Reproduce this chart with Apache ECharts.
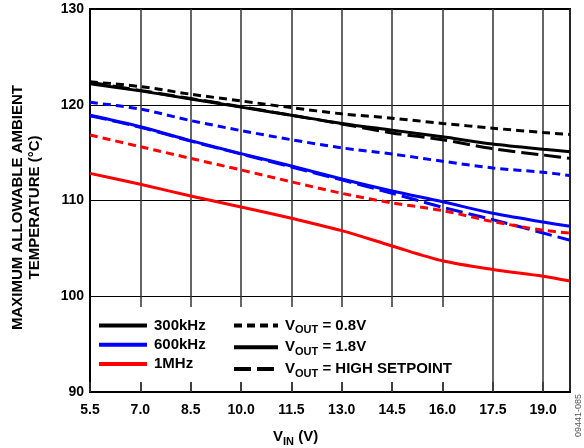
<!DOCTYPE html>
<html>
<head>
<meta charset="utf-8">
<script src="https://cdn.jsdelivr.net/npm/echarts@6/dist/echarts.min.js"></script>
<style>
  html, body { margin: 0; padding: 0; background: #fff; }
  #main { width: 584px; height: 448px; }
</style>
</head>
<body>
<div id="main"></div>
<script>
// V_IN sample points (V)
var vin = [5.5, 7.0, 8.5, 10.0, 11.5, 13.0, 14.5, 16.0, 17.5, 19.0, 19.8];
var xTicks = ['5.5', '7.0', '8.5', '10.0', '11.5', '13.0', '14.5', '16.0', '17.5', '19.0'];

// 300kHz
var k300_v08 = [122.4, 121.9, 121.1, 120.4, 119.7, 119.05, 118.6, 118.05, 117.55, 117.1, 116.9];
var k300_v18 = [122.2, 121.45, 120.6, 119.75, 118.9, 118.05, 117.35, 116.65, 115.9, 115.35, 115.1];
var k300_hi  = [122.35, 121.5, 120.65, 119.8, 118.9, 118.0, 117.05, 116.35, 115.4, 114.75, 114.4];
// 600kHz
var k600_v08 = [120.25, 119.55, 118.35, 117.3, 116.35, 115.5, 114.85, 114.1, 113.4, 112.95, 112.6];
var k600_v18 = [118.9, 117.7, 116.25, 114.9, 113.6, 112.25, 111.0, 109.87, 108.66, 107.75, 107.3];
var k600_hi  = [118.85, 117.65, 116.2, 114.85, 113.5, 112.15, 110.75, 109.3, 108.0, 106.6, 105.85];
// 1MHz
var m1_v08 = [116.84, 115.62, 114.4, 113.19, 111.95, 110.75, 109.75, 108.95, 107.8, 106.9, 106.6];
var m1_v18 = [112.83, 111.69, 110.47, 109.33, 108.14, 106.85, 105.25, 103.7, 102.8, 102.1, 101.6];

var X0 = 5.5; // axis origin, ticks counted from here
var FONT = 'Liberation Sans, Arial, sans-serif';
var SHORT = [8, 5];
var LONG = [17, 6];

function pts(arr) {
  return arr.map(function (t, i) { return [vin[i] - X0, t]; });
}
function mk(name, arr, color, type) {
  return {
    name: name,
    type: 'line',
    data: arr ? pts(arr) : [],
    symbol: 'none',
    smooth: 0.3,
    z: 3,
    lineStyle: { color: color, width: 3, type: type },
    itemStyle: { color: color }
  };
}

var rich = {
  b: { fontFamily: FONT, fontWeight: 'bold', fontSize: 15, color: '#000' },
  s: { fontFamily: FONT, fontWeight: 'bold', fontSize: 11, color: '#000', padding: [9, 0, 0, 0] }
};
var labels = {
  v08: '{b|V}{s|OUT}{b| = 0.8V}',
  v18: '{b|V}{s|OUT}{b| = 1.8V}',
  vhi: '{b|V}{s|OUT}{b| = HIGH SETPOINT}'
};

var chart = echarts.init(document.getElementById('main'), null, { renderer: 'canvas' });
var option = {
  animation: false,
  backgroundColor: '#fff',
  grid: { left: 90, right: 14, top: 9, bottom: 56, show: true, borderColor: '#000', borderWidth: 2 },
  title: {
    text: '{b|V}{s|IN}{b| (V)}',
    left: 268, top: 422,
    textStyle: { rich: rich }
  },
  legend: [
    {
      left: 92, top: 313, orient: 'vertical', itemWidth: 48, itemHeight: 14, itemGap: 4.3,
      data: ['300kHz', '600kHz', '1MHz'],
      itemStyle: { opacity: 0 },
      lineStyle: { width: 4 },
      textStyle: { fontFamily: FONT, fontWeight: 'bold', fontSize: 15, color: '#000', padding: [0, 0, 0, 2] }
    },
    {
      left: 227, top: 313, orient: 'vertical', itemWidth: 44, itemHeight: 14, itemGap: 4.3,
      data: ['v08', 'v18', 'vhi'],
      itemStyle: { opacity: 0 },
      lineStyle: { width: 4 },
      formatter: function (n) { return labels[n]; },
      textStyle: { rich: rich, padding: [0, 0, 0, 2] }
    }
  ],
  graphic: [
    { type: 'rect', z: 3, shape: { x: 91, y: 307, width: 384, height: 75 }, style: { fill: '#fff' } },
    {
      type: 'text', left: 574, top: 394, rotation: Math.PI / 2,
      style: { text: '09441-085', fontFamily: FONT, fontSize: 9, fill: '#555' }
    }
  ],
  xAxis: {
    type: 'value', min: 0, max: 14.3, interval: 1.5,
    axisLine: { show: true, lineStyle: { color: '#000', width: 2 } },
    axisTick: { show: true, inside: true, length: 10, lineStyle: { color: '#333', width: 1.5 } },
    axisLabel: {
      showMaxLabel: false, margin: 11, color: '#000', fontFamily: FONT, fontWeight: 'bold', fontSize: 14,
      formatter: function (v) { return (v + X0).toFixed(1); }
    },
    splitLine: { show: true, lineStyle: { color: '#333', width: 1.5 } }
  },
  yAxis: {
    type: 'value', min: 90, max: 130, interval: 10,
    name: 'MAXIMUM ALLOWABLE AMBIENT\nTEMPERATURE (°C)',
    nameLocation: 'middle', nameRotate: 90, nameGap: 47,
    nameTextStyle: {
      fontFamily: FONT, fontWeight: 'bold', fontSize: 15, color: '#000', lineHeight: 17,
      padding: [0, 14, 0, 0]
    },
    axisLine: { show: true, lineStyle: { color: '#000', width: 2 } },
    axisTick: { show: false },
    axisLabel: { color: '#000', fontFamily: FONT, fontWeight: 'bold', fontSize: 14, margin: 6 },
    splitLine: { show: true, lineStyle: { color: '#000', width: 1.2 } }
  },
  series: [
    mk('k300_v08', k300_v08, '#000', SHORT),
    mk('k300_hi', k300_hi, '#000', LONG),
    mk('k300_v18', k300_v18, '#000', 'solid'),
    mk('k600_v08', k600_v08, '#0000ff', SHORT),
    mk('k600_hi', k600_hi, '#0000ff', LONG),
    mk('k600_v18', k600_v18, '#0000ff', 'solid'),
    mk('m1_v08', m1_v08, '#ff0000', SHORT),
    mk('m1_v18', m1_v18, '#ff0000', 'solid'),
    // legend-only entries
    mk('300kHz', null, '#000', 'solid'),
    mk('600kHz', null, '#0000ff', 'solid'),
    mk('1MHz', null, '#ff0000', 'solid'),
    mk('v08', null, '#000', SHORT),
    mk('v18', null, '#000', 'solid'),
    mk('vhi', null, '#000', LONG)
  ]
};
chart.setOption(option);
</script>
</body>
</html>
